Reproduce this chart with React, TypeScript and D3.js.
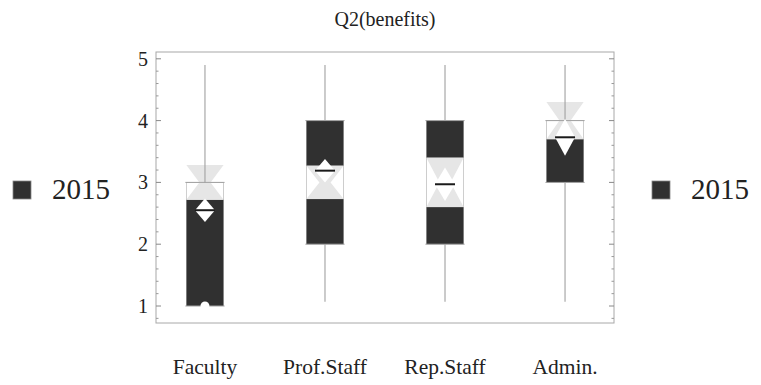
import React from "react";
import * as d3 from "d3";

// Survey responses (1–5) per staff group
const categories = ["Faculty", "Prof.Staff", "Rep.Staff", "Admin."];
const whiskerLow = [1, 1.07, 1.07, 1.07];
const whiskerHigh = [4.9, 4.9, 4.9, 4.9];
const quartile1 = [1, 2, 2, 3];
const quartile3 = [3, 4, 4, 4];
const medians = [3, 3, 3, 4];
const notchHalf = [0.28, 0.27, 0.4, 0.3];
const means = [2.55, 3.19, 2.97, 3.73];
const meanHalf = [0.19, 0.19, 0.27, 0.3];
const lowPoints: (number | null)[] = [1, null, null, null];
const yTicks = [1, 2, 3, 4, 5];
const seriesName = "2015";
const chartTitle = "Q2(benefits)";

const W = 761;
const H = 385;
const left = 156;
const right = 614;
const top = 52;
const bottom = 323;

const DARK = "#303030";
const NOTCH = "#e6e6e6";
const LINE = "#a0a0a0";
const FONT = "'Liberation Serif', 'Times New Roman', serif";

export default function App() {
  const x = d3.scaleLinear().domain([0.592, 4.408]).range([left, right]);
  const y = d3.scaleLinear().domain([0.725, 5.11]).range([bottom, top]);
  const halfW = x(1.155) - x(1); // half box width
  const notchNarrow = halfW * 0.3;
  const diamondHalfW = 10;
  const meanLineHalf = 10;

  const minorTicks = d3
    .range(0.8, 5.01, 0.2)
    .filter((v) => !yTicks.some((t) => Math.abs(t - v) < 1e-6));

  const line = d3.line();

  return (
    <svg
      width={W}
      height={H}
      style={{ position: "absolute", left: 0, top: 0, background: "#fff" }}
      fontFamily={FONT}
    >
      <rect x={0} y={0} width={W} height={H} fill="#fff" />
      <text x={(left + right) / 2} y={26} textAnchor="middle" fontSize={20} fill="#222">
        {chartTitle}
      </text>

      {categories.map((c, i) => {
        const cx = x(i + 1);
        const q1 = quartile1[i];
        const q3 = quartile3[i];
        const med = medians[i];
        const nLo = med - notchHalf[i];
        const nHi = med + notchHalf[i];
        const wLo = Math.max(q1, nLo);
        const wHi = Math.min(q3, nHi);
        const hourglass: [number, number][] = [
          [cx - halfW, y(nHi)],
          [cx + halfW, y(nHi)],
          [cx + notchNarrow, y(med)],
          [cx + halfW, y(nLo)],
          [cx - halfW, y(nLo)],
          [cx - notchNarrow, y(med)],
        ];
        const m = means[i];
        const diamond: [number, number][] = [
          [cx, y(m + meanHalf[i])],
          [cx + diamondHalfW, y(m)],
          [cx, y(m - meanHalf[i])],
          [cx - diamondHalfW, y(m)],
        ];
        return (
          <g key={c}>
            <rect x={cx - halfW} y={y(q3)} width={2 * halfW} height={y(q1) - y(q3)} fill={DARK} />
            {wHi > wLo && (
              <rect x={cx - halfW} y={y(wHi)} width={2 * halfW} height={y(wLo) - y(wHi)} fill="#fff" />
            )}
            <path d={line(hourglass) + "Z"} fill={NOTCH} />
            <line x1={cx} x2={cx} y1={y(whiskerHigh[i])} y2={y(q3)} stroke={LINE} strokeWidth={1.1} />
            <line x1={cx} x2={cx} y1={y(q1)} y2={y(whiskerLow[i])} stroke={LINE} strokeWidth={1.1} />
            {[q1, q3].map((q, k) => (
              <line
                key={k}
                x1={cx - halfW - 1}
                x2={cx + halfW + 1}
                y1={y(q)}
                y2={y(q)}
                stroke={LINE}
                strokeWidth={1}
              />
            ))}
            <path d={line(diamond) + "Z"} fill="#fff" />
            <line
              x1={cx - meanLineHalf}
              x2={cx + meanLineHalf}
              y1={y(m)}
              y2={y(m)}
              stroke="#1a1a1a"
              strokeWidth={2}
            />
            {lowPoints[i] !== null && (
              <circle cx={cx} cy={y(lowPoints[i] as number)} r={4.5} fill="#fff" />
            )}
            <text x={cx} y={374} textAnchor="middle" fontSize={21.5} fill="#222">
              {c}
            </text>
          </g>
        );
      })}

      {/* frame */}
      <rect
        x={left}
        y={top}
        width={right - left}
        height={bottom - top}
        fill="none"
        stroke="#a8a8a8"
        strokeWidth={1}
      />
      {yTicks.map((t) => (
        <g key={t}>
          <line x1={left} x2={left + 5} y1={y(t)} y2={y(t)} stroke="#888" />
          <line x1={right} x2={right - 5} y1={y(t)} y2={y(t)} stroke="#888" />
          <text x={148} y={y(t)} dy="0.35em" textAnchor="end" fontSize={20} fill="#222">
            {t}
          </text>
        </g>
      ))}
      {minorTicks.map((t) => (
        <g key={"m" + t.toFixed(2)}>
          <line x1={left} x2={left + 2.5} y1={y(t)} y2={y(t)} stroke="#999" />
          <line x1={right} x2={right - 2.5} y1={y(t)} y2={y(t)} stroke="#999" />
        </g>
      ))}

      {/* legends */}
      {[13, 652].map((lx, k) => (
        <g key={k}>
          <rect x={lx} y={181} width={18} height={18} fill={DARK} stroke="#888" strokeWidth={0.8} />
          <text x={lx + 39} y={199} fontSize={29} fill="#222">
            {seriesName}
          </text>
        </g>
      ))}
    </svg>
  );
}
